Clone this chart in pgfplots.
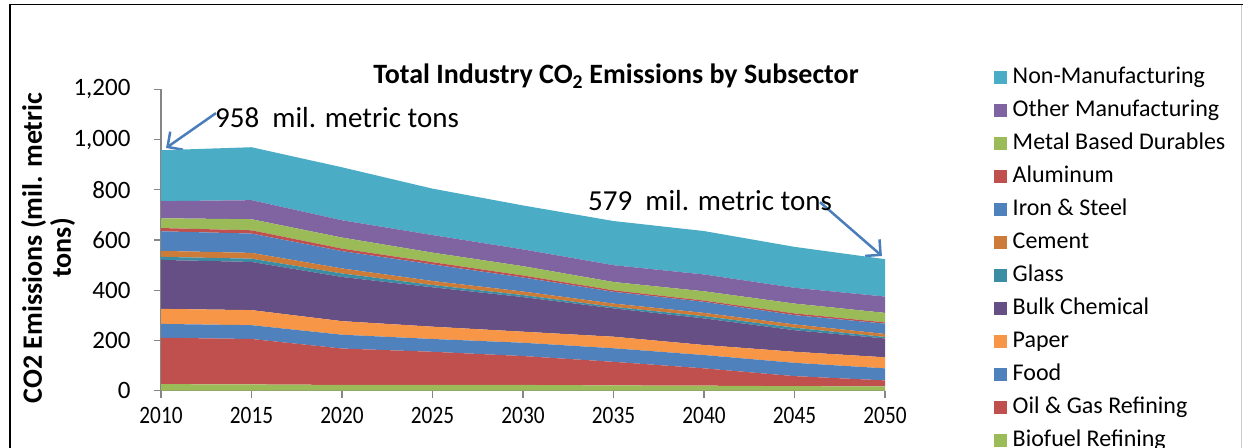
\documentclass[border=0pt]{standalone}
\usepackage{pgfplots}
\pgfplotsset{compat=1.18}
\usepackage{pgfplotstable}
\usepackage{fontspec}
\setmainfont{Carlito}
\usetikzlibrary{arrows.meta}

\definecolor{cNon}{HTML}{4BACC6}
\definecolor{cOther}{HTML}{8064A2}
\definecolor{cMetal}{HTML}{9BBB59}
\definecolor{cAlum}{HTML}{C0504D}
\definecolor{cIron}{HTML}{4F81BD}
\definecolor{cCement}{HTML}{CC7B38}
\definecolor{cGlass}{HTML}{3A8DA3}
\definecolor{cBulk}{HTML}{664F85}
\definecolor{cPaper}{HTML}{F79646}
\definecolor{cFood}{HTML}{4F81BD}
\definecolor{cOil}{HTML}{C0504D}
\definecolor{cBio}{HTML}{9BBB59}
\definecolor{axisgray}{HTML}{868686}
\definecolor{arrowblue}{HTML}{4A7EBB}

% CO2 emissions by subsector, million metric tons
\pgfplotstableread{
year bio oil food paper bulk glass cement iron alum metal other non
2010 26 185 55 60 195 12 24 78 13 39 68 203
2015 25 181 55 60 192 13 23 77 13 44 76 211
2020 23 145 55 54 176 14 20 69 10 44 69 211
2025 23 132 51 49 157  9 16 66  9 38 70 185
2030 23 115 53 44 138  8 14 56  8 37 67 175
2035 21  94 54 46 113  6 13 47  6 33 67 176
2040 20  69 53 40 106  9 13 44  5 37 67 173
2045 18  40 53 44  86 10 13 37  7 39 63 163
2050 17  24 48 44  75  6 12 41  5 38 65 149
}\emissions

\begin{document}
\begin{tikzpicture}[x=1bp,y=1bp]
\useasboundingbox (0,0) rectangle (1243,448);
% chart frame
\draw[black, line width=1.6bp] (10,0) -- (10,443.5) -- (1243,443.5);
\draw[black!20, line width=1bp] (1241.5,0) -- (1241.5,443);

% axis title
\node[rotate=90, align=center, font=\fontsize{28bp}{29bp}\selectfont\bfseries]
  at (48,200) {CO2 Emissions (mil. metric\\tons)};
% chart title
\node[anchor=base, font=\fontsize{28bp}{30bp}\selectfont\bfseries]
  at (616,364) {Total Industry CO\textsubscript{2} Emissions by Subsector};

\begin{axis}[
  at={(161bp,57.3bp)}, anchor=south west,
  scale only axis, width=724bp, height=301.2bp,
  xmin=2010, xmax=2050, ymin=0, ymax=1200,
  stack plots=y,
  axis lines*=left,
  axis line style={draw=axisgray, line width=1.2bp},
  tick align=outside,
  major tick length=7bp,
  tick style={draw=axisgray, line width=1.2bp},
  xtick={2010,2015,...,2050},
  ytick={0,200,...,1200},
  /pgf/number format/assume math mode=true,
  ticklabel style={font=\fontsize{25bp}{30bp}\selectfont},
  yticklabel style={xshift=-20bp},
  xticklabel style={yshift=-6bp},
  xticklabel={\scalebox{0.85}[1]{\pgfmathprintnumber[1000 sep={}]{\tick}}},
  clip=false,
  reverse legend,
  legend image code/.code={\fill[#1] (0bp,-6.5bp) rectangle (13bp,6.5bp);},
  legend style={at={(1.1506,1.0764)}, anchor=north west, draw=none, fill=none,
    font=\fontsize{24bp}{28bp}\selectfont, inner sep=0pt, row sep=11bp,
    column sep=5bp, cells={anchor=west},
    nodes={inner sep=0.5bp, text height=16bp, text depth=5bp}},
]
\addplot[fill=cBio, draw=none] table[x=year,y=bio] {\emissions} \closedcycle;
\addlegendentry{Biofuel Refining}
\addplot[fill=cOil, draw=none] table[x=year,y=oil] {\emissions} \closedcycle;
\addlegendentry{Oil \& Gas Refining}
\addplot[fill=cFood, draw=none] table[x=year,y=food] {\emissions} \closedcycle;
\addlegendentry{Food}
\addplot[fill=cPaper, draw=none] table[x=year,y=paper] {\emissions} \closedcycle;
\addlegendentry{Paper}
\addplot[fill=cBulk, draw=none] table[x=year,y=bulk] {\emissions} \closedcycle;
\addlegendentry{Bulk Chemical}
\addplot[fill=cGlass, draw=none] table[x=year,y=glass] {\emissions} \closedcycle;
\addlegendentry{Glass}
\addplot[fill=cCement, draw=none] table[x=year,y=cement] {\emissions} \closedcycle;
\addlegendentry{Cement}
\addplot[fill=cIron, draw=none] table[x=year,y=iron] {\emissions} \closedcycle;
\addlegendentry{Iron \& Steel}
\addplot[fill=cAlum, draw=none] table[x=year,y=alum] {\emissions} \closedcycle;
\addlegendentry{Aluminum}
\addplot[fill=cMetal, draw=none] table[x=year,y=metal] {\emissions} \closedcycle;
\addlegendentry{Metal Based Durables}
\addplot[fill=cOther, draw=none] table[x=year,y=other] {\emissions} \closedcycle;
\addlegendentry{Other Manufacturing}
\addplot[fill=cNon, draw=none] table[x=year,y=non] {\emissions} \closedcycle;
\addlegendentry{Non-Manufacturing}

% totals called out at the first and last year
\node[anchor=base west, inner sep=0pt, font=\fontsize{29bp}{32bp}\selectfont]
  at (axis cs:2012.98,1046.6) {958\ \ mil. metric tons};
\draw[arrowblue, line width=2.5bp, -{Straight Barb[length=11bp,width=22bp]}]
  (axis cs:2013.04,1106) -- (axis cs:2010.28,967);
\node[anchor=base west, inner sep=0pt, font=\fontsize{29bp}{32bp}\selectfont]
  at (axis cs:2033.59,716) {579\ \ mil. metric tons};
\draw[arrowblue, line width=2.5bp, -{Straight Barb[length=11bp,width=22bp]}]
  (axis cs:2046.41,751) -- (axis cs:2049.83,536.6);
\end{axis}
\end{tikzpicture}
\end{document}
